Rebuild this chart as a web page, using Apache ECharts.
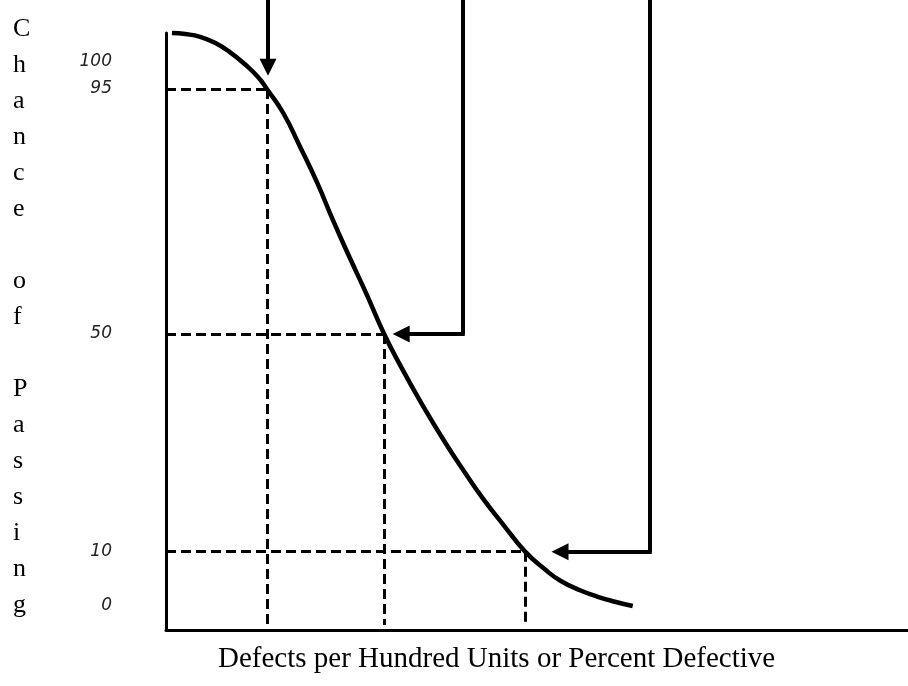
<!DOCTYPE html>
<html>
<head>
<meta charset="utf-8">
<script src="https://cdn.jsdelivr.net/npm/echarts@6/dist/echarts.min.js"></script>
<style>
html,body{margin:0;padding:0;background:#fff;}
#chart{width:908px;height:686px;}
</style>
</head>
<body>
<div id="chart"></div>
<script>
// OC curve
const curveX = [0.8, 2.6, 4.6, 6.6, 8.6, 10.6, 12.4, 13.6, 15.8, 18.1, 20.4, 22.5, 24.8, 27.1, 29.4, 31.5, 34.2, 37.6, 40.3, 42.7, 45.6, 48.4, 51.1, 53.1, 55.8, 58.2, 60.5, 62.9];
const curveY = [105.3, 105.1, 104.6, 103.5, 101.8, 99.6, 97.2, 95.0, 90.6, 84.3, 77.7, 70.9, 63.9, 57.1, 50.0, 44.4, 37.8, 30.1, 24.5, 19.8, 14.7, 10.0, 6.7, 4.7, 2.9, 1.7, 0.8, 0.0];

// reference levels (chance of passing) and where they meet the curve
const refLevels = [95, 50, 10];
const refX = [13.6, 29.4, 48.4];

// y tick labels
const yTicks = [0, 10, 50, 95, 100];

// arrows: shaft x, shaft top y, elbow y, head end x
const arrowX = [13.75, 40.0, 65.2];
const arrowTopY = [111.4, 111.4, 111.4];
const arrowElbowY = [99.0, 50.0, 10.0];
const arrowEndX = [13.75, 31.7, 53.1];

const axisName = 'Defects per Hundred Units or Percent Defective';
const yName = 'Chance of Passing';

const X_MIN = 0, X_MAX = 100, Y_MIN = -4.4, Y_MAX = 105.3, DASH_BOTTOM = -3.5;

const dashData = [];
refLevels.forEach((lv, i) => {
  dashData.push({coords: [[X_MIN, lv], [refX[i], lv]]});
  dashData.push({coords: [[refX[i], lv], [refX[i], DASH_BOTTOM]]});
});

const shaftData = [];
const headData = [];
arrowX.forEach((x, i) => {
  if (arrowEndX[i] === x) {
    headData.push({coords: [[x, arrowTopY[i]], [x, arrowElbowY[i]]]});
  } else {
    shaftData.push({coords: [[x, arrowTopY[i]], [x, arrowElbowY[i]]]});
    headData.push({coords: [[x, arrowElbowY[i]], [arrowEndX[i], arrowElbowY[i]]]});
  }
});

const chart = echarts.init(document.getElementById('chart'), null, {renderer: 'canvas'});
chart.setOption({
  animation: false,
  backgroundColor: '#fff',
  grid: {left: 166, right: 0, top: 33, bottom: 56},
  xAxis: {
    type: 'value', min: X_MIN, max: X_MAX,
    axisLine: {show: true, onZero: false, lineStyle: {color: '#000', width: 3}},
    axisTick: {show: false}, axisLabel: {show: false}, splitLine: {show: false}
  },
  yAxis: {
    type: 'value', min: Y_MIN, max: Y_MAX,
    axisLine: {show: true, onZero: false, lineStyle: {color: '#000', width: 3}},
    axisTick: {show: false},
    splitLine: {show: false},
    axisLabel: {
      customValues: yTicks,
      margin: 54,
      fontFamily: 'DejaVu Sans',
      fontStyle: 'italic',
      fontSize: 17,
      color: '#222'
    }
  },
  graphic: [
    {
      type: 'text', left: 218, top: 645,
      style: {text: axisName, font: '29px "Liberation Serif"', fill: '#000'}
    },
    {
      type: 'text', left: 13, top: 11,
      style: {text: yName.split('').join('\n'), font: '26px "Liberation Serif"', lineHeight: 36, fill: '#000'}
    }
  ],
  series: [
    {
      type: 'line',
      data: curveX.map((x, i) => [x, curveY[i]]),
      smooth: 0.5,
      showSymbol: false,
      clip: false,
      lineStyle: {color: '#000', width: 4.5}
    },
    {
      type: 'lines', coordinateSystem: 'cartesian2d', clip: false,
      data: dashData,
      symbol: 'none',
      lineStyle: {color: '#000', width: 3, type: [10, 5], opacity: 1}
    },
    {
      type: 'lines', coordinateSystem: 'cartesian2d', clip: false,
      data: shaftData,
      symbol: 'none',
      lineStyle: {color: '#000', width: 4, opacity: 1}
    },
    {
      type: 'lines', coordinateSystem: 'cartesian2d', clip: false,
      data: headData,
      symbol: ['none', 'triangle'],
      symbolSize: [15, 17],
      lineStyle: {color: '#000', width: 4, opacity: 1, cap: 'square'}
    }
  ]
});
</script>
</body>
</html>
